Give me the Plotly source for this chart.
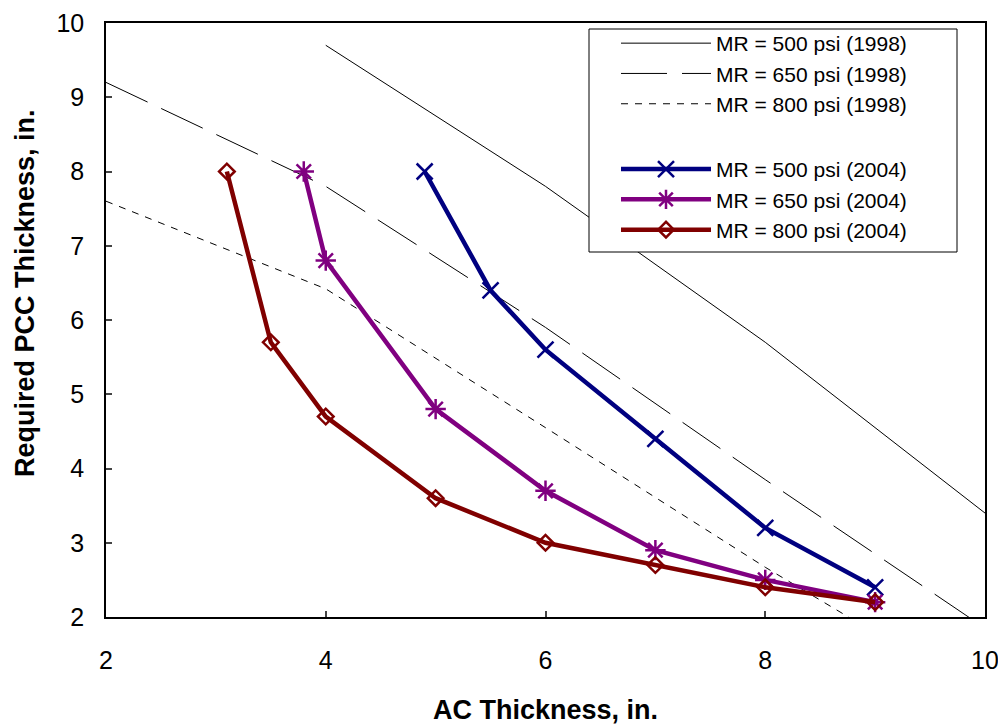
import plotly.graph_objects as go

# ---- data ----
ac_1998 = [2, 4, 6, 8, 10]
ac_500_1998 = [4, 6, 8, 10]
pcc_500_1998 = [9.7, 7.8, 5.7, 3.4]
pcc_650_1998 = [9.2, 7.8, 5.9, 3.85, 1.85]
pcc_800_1998 = [7.6, 6.42, 4.55, 2.67, 0.9]

ac_500_2004 = [4.9, 5.5, 6, 7, 8, 9]
pcc_500_2004 = [8.0, 6.4, 5.6, 4.4, 3.2, 2.4]
ac_650_2004 = [3.8, 4, 5, 6, 7, 8, 9]
pcc_650_2004 = [8.0, 6.8, 4.8, 3.7, 2.9, 2.5, 2.2]
ac_800_2004 = [3.1, 3.5, 4, 5, 6, 7, 8, 9]
pcc_800_2004 = [8.0, 5.7, 4.7, 3.6, 3.0, 2.7, 2.4, 2.2]

x_ticks = [2, 4, 6, 8, 10]
y_ticks = [2, 3, 4, 5, 6, 7, 8, 9, 10]

FONT = "Liberation Sans, Arial, sans-serif"

# page offset from the default 8px body margin
OFF = 8
PL, PT, PW, PH = 106, 23, 879, 594  # plot area in page pixels


def px(xp):
    return (xp - PL) / PW


def py(yp):
    return 1 - (yp - PT) / PH


fig = go.Figure()

fig.add_trace(go.Scatter(x=ac_500_1998, y=pcc_500_1998, mode="lines",
                         name="MR = 500 psi (1998)", legendgroup="a",
                         line=dict(color="black", width=1)))
fig.add_trace(go.Scatter(x=ac_1998, y=pcc_650_1998, mode="lines",
                         name="MR = 650 psi (1998)", legendgroup="a",
                         line=dict(color="black", width=1, dash="46px,15px")))
fig.add_trace(go.Scatter(x=ac_1998, y=pcc_800_1998, mode="lines",
                         name="MR = 800 psi (1998)", legendgroup="a",
                         line=dict(color="black", width=1, dash="7px,7px")))
fig.add_trace(go.Scatter(x=ac_500_2004, y=pcc_500_2004, mode="lines+markers",
                         name="MR = 500 psi (2004)", legendgroup="b",
                         line=dict(color="#000080", width=4.5),
                         marker=dict(symbol="x-thin-open", size=16, color="#000080",
                                     line=dict(color="#000080", width=2.5))))
fig.add_trace(go.Scatter(x=ac_650_2004, y=pcc_650_2004, mode="lines+markers",
                         name="MR = 650 psi (2004)", legendgroup="b",
                         line=dict(color="#800080", width=4.5),
                         marker=dict(symbol="asterisk-open", size=17, color="#800080",
                                     line=dict(color="#800080", width=2.5))))
fig.add_trace(go.Scatter(x=ac_800_2004, y=pcc_800_2004, mode="lines+markers",
                         name="MR = 800 psi (2004)", legendgroup="b",
                         line=dict(color="#800000", width=4.5),
                         marker=dict(symbol="diamond-open", size=12, color="#800000",
                                     line=dict(color="#800000", width=2.5))))

# legend box
fig.add_shape(type="rect", xref="paper", yref="paper",
              x0=px(589), x1=px(957), y0=py(252), y1=py(29),
              fillcolor="white", line=dict(color="black", width=1), layer="above")

W, H = 998, 720
fig.update_layout(
    width=W, height=H,
    margin=dict(l=PL - OFF, r=W - (PL + PW - OFF), t=PT - OFF, b=H - (PT + PH - OFF),
                autoexpand=False),
    paper_bgcolor="white", plot_bgcolor="white",
    font=dict(family=FONT, color="black"),
    showlegend=True,
    legend=dict(x=px(616), y=py(23), xanchor="left", yanchor="top",
                bgcolor="rgba(0,0,0,0)", borderwidth=0,
                font=dict(family=FONT, size=21, color="black"),
                itemwidth=90, traceorder="grouped", tracegroupgap=35),
    xaxis=dict(range=[2, 10], tickvals=x_ticks, ticktext=[str(v) for v in x_ticks],
               ticks="inside", ticklen=6, tickwidth=1.5, tickcolor="#444",
               showgrid=False, zeroline=False, automargin=False,
               showline=True, linecolor="black", linewidth=1.5, mirror=True,
               tickfont=dict(family=FONT, size=25), ticklabelstandoff=20),
    yaxis=dict(range=[2, 10], tickvals=y_ticks, ticktext=[str(v) for v in y_ticks],
               ticks="inside", ticklen=6, tickwidth=1.5, tickcolor="#444",
               showgrid=False, zeroline=False, automargin=False,
               showline=True, linecolor="black", linewidth=1.5, mirror=True,
               tickfont=dict(family=FONT, size=25), ticklabelstandoff=15),
    annotations=[
        dict(text="<b>AC Thickness, in.</b>", xref="paper", yref="paper",
             x=0.5, y=py(710), xanchor="center", yanchor="middle",
             showarrow=False, font=dict(family=FONT, size=27, color="black")),
        dict(text="<b>Required PCC Thickness, in.</b>", xref="paper", yref="paper",
             x=px(25), y=py(293), xanchor="center", yanchor="middle",
             textangle=-90, showarrow=False, font=dict(family=FONT, size=27, color="black")),
    ],
)

fig.write_html("out.html")
